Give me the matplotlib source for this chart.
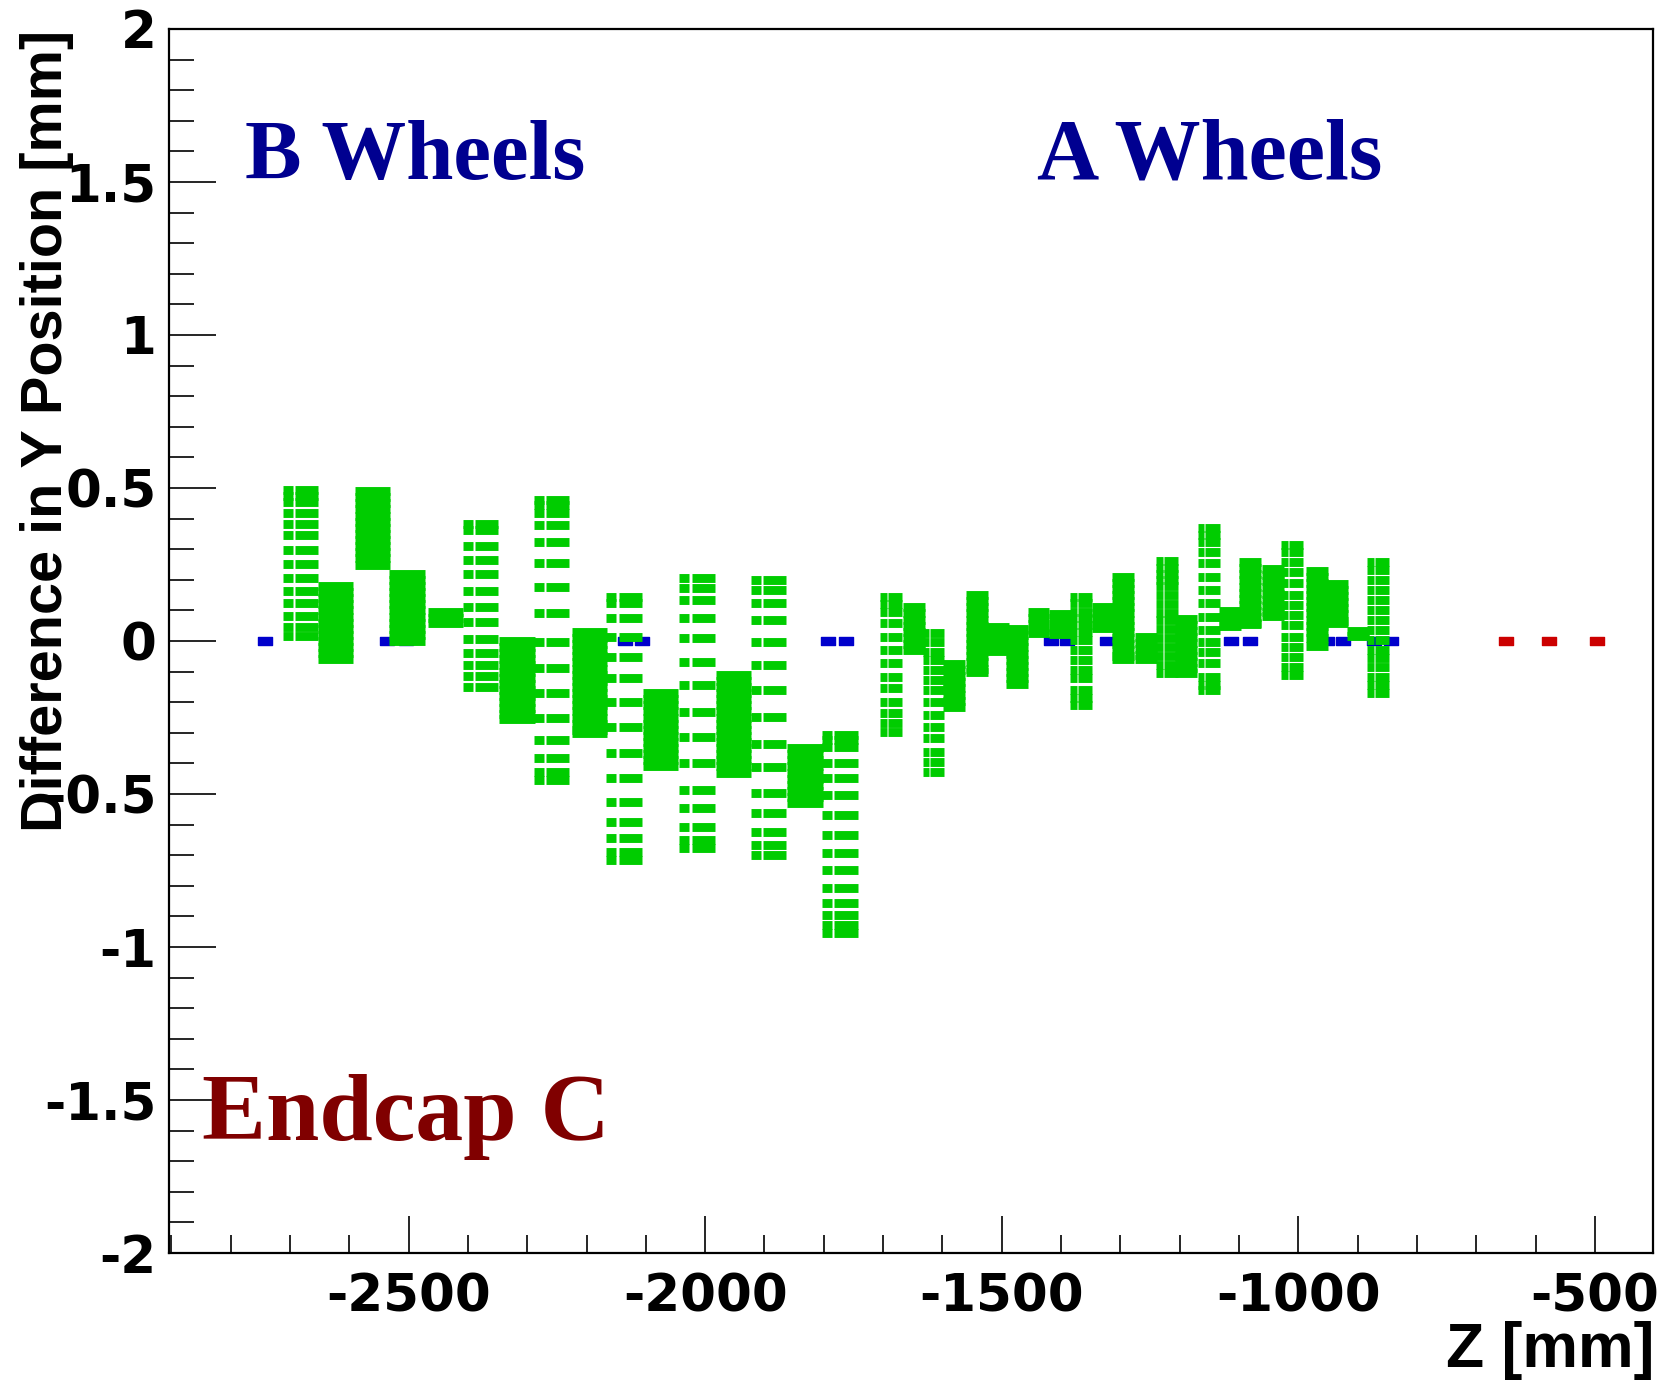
import matplotlib
matplotlib.use("Agg")
import matplotlib.pyplot as plt
from matplotlib.path import Path
from matplotlib.ticker import MultipleLocator

plt.rcParams["axes.unicode_minus"] = False

GREEN = "#00cc00"
BLUE = "#0000cc"
RED = "#cc0000"

# B wheels: plane z [mm], striped (many separate modules) or packed, dy [mm]
b_z = [-2682, -2623, -2561, -2503, -2438, -2379, -2317, -2259,
       -2195, -2137, -2075, -2014, -1952, -1893, -1832, -1773]
b_striped = [True, False, False, False, False, True, False, True,
             False, True, False, True, False, True, False, True]
b_dy = [
    [0.493, 0.475, 0.455, 0.419, 0.382, 0.345, 0.297, 0.252, 0.205, 0.163, 0.124, 0.083, 0.045, 0.018],
    [0.18, 0.16, 0.14, 0.12, 0.10, 0.08, 0.06, 0.04, 0.02, 0.00, -0.02, -0.04, -0.06],
    [0.49, 0.47, 0.45, 0.43, 0.41, 0.39, 0.37, 0.35, 0.33, 0.31, 0.29, 0.27, 0.25],
    [0.22, 0.20, 0.18, 0.16, 0.14, 0.12, 0.10, 0.08, 0.06, 0.04, 0.02, 0.00],
    [0.095, 0.075, 0.06],
    [0.382, 0.363, 0.312, 0.266, 0.219, 0.164, 0.110, 0.061, 0.007, -0.040, -0.078, -0.113, -0.149],
    [0.00, -0.02, -0.04, -0.06, -0.08, -0.10, -0.12, -0.14, -0.16, -0.18, -0.20, -0.22, -0.24, -0.255],
    [0.461, 0.444, 0.417, 0.379, 0.325, 0.254, 0.178, 0.090, -0.002, -0.089, -0.171, -0.253, -0.323, -0.383, -0.427, -0.454],
    [0.03, 0.01, -0.01, -0.03, -0.05, -0.07, -0.09, -0.11, -0.13, -0.15, -0.17, -0.19, -0.21, -0.23, -0.25, -0.27, -0.29, -0.30],
    [0.145, 0.123, 0.074, 0.014, -0.051, -0.122, -0.198, -0.280, -0.367, -0.449, -0.525, -0.590, -0.645, -0.688, -0.716],
    [-0.17, -0.19, -0.21, -0.23, -0.25, -0.27, -0.29, -0.31, -0.33, -0.35, -0.37, -0.39, -0.41],
    [0.205, 0.172, 0.134, 0.074, 0.009, -0.068, -0.144, -0.231, -0.313, -0.400, -0.487, -0.547, -0.607, -0.650, -0.677],
    [-0.11, -0.13, -0.15, -0.17, -0.19, -0.21, -0.23, -0.25, -0.27, -0.29, -0.31, -0.33, -0.35, -0.37, -0.39, -0.41, -0.43],
    [0.199, 0.167, 0.123, 0.069, -0.002, -0.079, -0.160, -0.248, -0.335, -0.411, -0.498, -0.563, -0.623, -0.667, -0.699],
    [-0.35, -0.37, -0.39, -0.41, -0.43, -0.45, -0.47, -0.49, -0.51, -0.53],
    [-0.307, -0.325, -0.345, -0.400, -0.449, -0.503, -0.569, -0.634, -0.694, -0.749, -0.808, -0.857, -0.895, -0.928, -0.955],
]

# A wheels
a_z = [-1686, -1648, -1615, -1580, -1542, -1507, -1475, -1438, -1402, -1366, -1330, -1295,
       -1257, -1221, -1189, -1151, -1115, -1081, -1043, -1010, -969, -934, -900, -865]
a_striped = [True, False, True, False, False, False, False, False, False, True, False, False,
             False, True, False, True, False, False, False, True, False, False, False, True]
a_dy = [
    [0.145, 0.12, 0.095, 0.058, 0.014, -0.030, -0.073, -0.117, -0.155, -0.198, -0.236, -0.269, -0.296],
    [0.11, 0.09, 0.07, 0.05, 0.03, 0.01, -0.01, -0.03],
    [0.025, -0.002, -0.035, -0.062, -0.095, -0.127, -0.160, -0.198, -0.242, -0.280, -0.318, -0.362, -0.394, -0.427],
    [-0.075, -0.095, -0.115, -0.135, -0.155, -0.175, -0.195, -0.215],
    [0.15, 0.13, 0.11, 0.09, 0.07, 0.05, 0.03, 0.01, -0.01, -0.03, -0.05, -0.07, -0.09, -0.10],
    [0.046, 0.026, 0.006, -0.014, -0.033],
    [0.039, 0.019, -0.001, -0.021, -0.041, -0.061, -0.081, -0.101, -0.121, -0.141],
    [0.095, 0.075, 0.055, 0.035, 0.026],
    [0.087, 0.067, 0.047, 0.027, 0.023],
    [0.145, 0.123, 0.096, 0.074, 0.052, 0.030, 0.003, -0.030, -0.062, -0.095, -0.122, -0.160, -0.187, -0.209],
    [0.111, 0.091, 0.071, 0.051, 0.042],
    [0.21, 0.19, 0.17, 0.15, 0.13, 0.11, 0.09, 0.07, 0.05, 0.03, 0.01, -0.01, -0.03, -0.05, -0.059],
    [0.013, -0.007, -0.027, -0.047, -0.059],
    [0.26, 0.24, 0.22, 0.20, 0.18, 0.15, 0.12, 0.09, 0.07, 0.04, 0.01, -0.02, -0.05, -0.08, -0.105],
    [0.072, 0.052, 0.032, 0.012, -0.008, -0.028, -0.048, -0.068, -0.088, -0.105],
    [0.368, 0.346, 0.324, 0.292, 0.254, 0.210, 0.167, 0.123, 0.080, 0.036, -0.002, -0.035, -0.073, -0.117, -0.144, -0.160],
    [0.098, 0.078, 0.058, 0.049],
    [0.258, 0.238, 0.218, 0.198, 0.178, 0.158, 0.138, 0.118, 0.098, 0.078, 0.058, 0.055],
    [0.235, 0.215, 0.195, 0.175, 0.155, 0.135, 0.115, 0.095, 0.082],
    [0.314, 0.292, 0.259, 0.226, 0.188, 0.150, 0.117, 0.085, 0.052, 0.014, -0.019, -0.052, -0.084, -0.112],
    [0.23, 0.21, 0.19, 0.17, 0.15, 0.13, 0.11, 0.09, 0.07, 0.05, 0.03, 0.01, -0.017],
    [0.187, 0.167, 0.147, 0.127, 0.107, 0.087, 0.067, 0.060],
    [0.034, 0.016],
    [0.259, 0.232, 0.199, 0.167, 0.134, 0.101, 0.069, 0.036, 0.003, -0.030, -0.057, -0.084, -0.117, -0.144, -0.171],
]

# nominal reference positions
blue_z = [-2742, -2536, -2505, -2135, -2106, -1793, -1762,
          -1417, -1390, -1322, -1113, -1081, -951, -924, -872, -844]
blue_dy = [0.0] * len(blue_z)
red_z = [-650, -578, -497]
red_dy = [0.0, 0.0, 0.0]

B_HALF = 30.0   # half length of a B-plane bar [mm]
A_HALF = 18.5
BAR_LW = 6.4    # bar thickness [pt]

fig = plt.figure(figsize=(16.68, 13.8), dpi=100)
ax = fig.add_axes([0.1013, 0.092, 0.8897, 0.887])

box = Path([(-1, -0.62), (1, -0.62), (1, 0.62), (-1, 0.62), (-1, -0.62)],
           [Path.MOVETO, Path.LINETO, Path.LINETO, Path.LINETO, Path.CLOSEPOLY])
ax.plot(blue_z, blue_dy, ls="none", marker=box, ms=9.6, color=BLUE, mec=BLUE, zorder=2)
ax.plot(red_z, red_dy, ls="none", marker=box, ms=9.6, color=RED, mec=RED, zorder=2)


def draw_planes(zs, striped, dys, half):
    x0, x1, y = [], [], []
    for z, s, ys in zip(zs, striped, dys):
        lo, hi = z - half, z + half
        for v in ys:
            if s:
                x0 += [lo, lo + 0.70 * half]
                x1 += [lo + 0.58 * half, hi]
                y += [v, v]
            else:
                x0.append(lo)
                x1.append(hi)
                y.append(v)
    ax.hlines(y, x0, x1, colors=GREEN, linewidth=BAR_LW, capstyle="butt", zorder=3)


draw_planes(b_z, b_striped, b_dy, B_HALF)
draw_planes(a_z, a_striped, a_dy, A_HALF)

ax.set_xlim(-2904, -402)
ax.set_ylim(-2, 2)
ax.xaxis.set_major_locator(MultipleLocator(500))
ax.xaxis.set_minor_locator(MultipleLocator(100))
ax.yaxis.set_major_locator(MultipleLocator(0.5))
ax.yaxis.set_minor_locator(MultipleLocator(0.1))
ax.yaxis.set_major_formatter(plt.FuncFormatter(lambda v, p: f"{v:g}"))

ax.tick_params(axis="y", which="major", direction="in", length=34, width=1.2,
               labelsize=37, pad=9)
ax.tick_params(axis="y", which="minor", direction="in", length=18, width=1.2)
ax.tick_params(axis="x", which="major", direction="in", length=27, width=1.2,
               labelsize=37, pad=14)
ax.tick_params(axis="x", which="minor", direction="in", length=13, width=1.2)
for lab in ax.get_xticklabels() + ax.get_yticklabels():
    lab.set_fontweight("bold")
for sp in ax.spines.values():
    sp.set_linewidth(1.6)

narrow = ["Liberation Sans Narrow", "Liberation Sans", "DejaVu Sans"]
fig.text(47 / 1668, 1 - 30 / 1380, "Difference in Y Position [mm]", rotation=90,
         ha="center", va="top", fontsize=41.5, fontweight="bold", family=narrow)
fig.text(1654 / 1668, 1 - 1367 / 1380, "Z [mm]", ha="right", va="baseline",
         fontsize=45, fontweight="bold", family=narrow)

serif = ["Liberation Serif", "DejaVu Serif"]
fig.text(245 / 1668, 1 - 179 / 1380, "B Wheels", ha="left", va="baseline",
         fontsize=61, fontweight="bold", family=serif, color="#000090")
fig.text(1037 / 1668, 1 - 179 / 1380, "A Wheels", ha="left", va="baseline",
         fontsize=62, fontweight="bold", family=serif, color="#000090")
fig.text(202 / 1668, 1 - 1140 / 1380, "Endcap C", ha="left", va="baseline",
         fontsize=69, fontweight="bold", family=serif, color="#800000")

fig.savefig("out.png", dpi=100)
